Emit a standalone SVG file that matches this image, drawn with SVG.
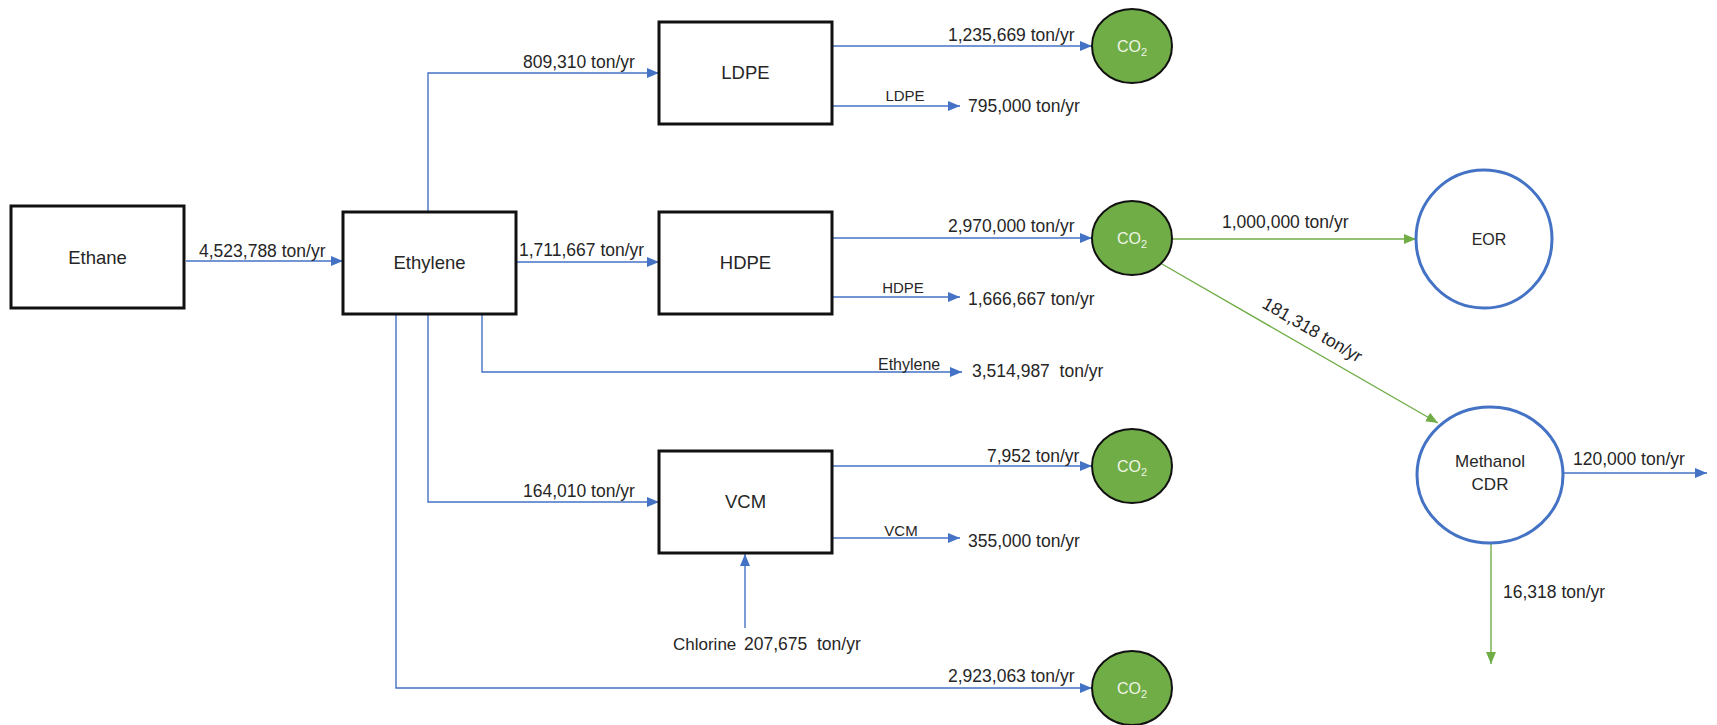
<svg xmlns="http://www.w3.org/2000/svg" width="1717" height="725" viewBox="0 0 1717 725">
<style>
text{font-family:"Liberation Sans",Arial,sans-serif;fill:#262626}
.box{fill:#fff;stroke:#111;stroke-width:3}
.bl{font-size:18.5px;text-anchor:middle}
.fl{font-size:17.5px}
.sm{font-size:15px}
.co2{fill:#70ad47;stroke:#111;stroke-width:2}
.co2t{font-size:16px;text-anchor:middle;fill:#eef5e6}
.ring{fill:#fff;stroke:#4472c4;stroke-width:3}
.cb{fill:none;stroke:#4472c4;stroke-width:1.4}
.cg{fill:none;stroke:#70ad47;stroke-width:1.4}
.pre{white-space:pre}
</style>
<defs>
<marker id="ab" markerWidth="12" markerHeight="10" refX="12" refY="5" orient="auto" markerUnits="userSpaceOnUse"><path d="M0,0 L12,5 L0,10 z" fill="#4472c4"/></marker>
<marker id="ag" markerWidth="12" markerHeight="10" refX="12" refY="5" orient="auto" markerUnits="userSpaceOnUse"><path d="M0,0 L12,5 L0,10 z" fill="#70ad47"/></marker>
</defs>
<rect width="1717" height="725" fill="#fff"/>
<g id="connectors">
<path class="cb" d="M186,261 H343" marker-end="url(#ab)"/>
<path class="cb" d="M428,212 V73 H659" marker-end="url(#ab)"/>
<path class="cb" d="M516,262 H659" marker-end="url(#ab)"/>
<path class="cb" d="M428,314 V502 H659" marker-end="url(#ab)"/>
<path class="cb" d="M482,314 V372 H962" marker-end="url(#ab)"/>
<path class="cb" d="M396,314 V688 H1092" marker-end="url(#ab)"/>
<path class="cb" d="M832,46 H1092" marker-end="url(#ab)"/>
<path class="cb" d="M832,106 H960" marker-end="url(#ab)"/>
<path class="cb" d="M832,238 H1092" marker-end="url(#ab)"/>
<path class="cb" d="M832,297 H960" marker-end="url(#ab)"/>
<path class="cb" d="M832,466 H1092" marker-end="url(#ab)"/>
<path class="cb" d="M832,538 H960" marker-end="url(#ab)"/>
<path class="cb" d="M745,628 V554" marker-end="url(#ab)"/>
<path class="cg" d="M1172,239 H1416" marker-end="url(#ag)"/>
<path class="cg" d="M1162,264 L1438,423" marker-end="url(#ag)"/>
<path class="cb" d="M1564,473 H1707" marker-end="url(#ab)"/>
<path class="cg" d="M1491,543 V664" marker-end="url(#ag)"/>
<text class="fl" x="199" y="257">4,523,788 ton/yr</text>
<text class="fl" x="523" y="68">809,310 ton/yr</text>
<text class="fl" x="519" y="256">1,711,667 ton/yr</text>
<text class="fl" x="523" y="497">164,010 ton/yr</text>
<text class="sm" style="font-size:16px" x="878" y="370">Ethylene</text>
<text class="fl pre" x="972" y="377">3,514,987  ton/yr</text>
<text class="fl" x="948" y="682">2,923,063 ton/yr</text>
<text class="sm" style="font-size:17px" x="673" y="650">Chlorine</text>
<text class="fl pre" x="744" y="650">207,675  ton/yr</text>
<text class="fl" x="948" y="41">1,235,669 ton/yr</text>
<text class="sm" x="905" y="101" text-anchor="middle">LDPE</text>
<text class="fl" x="968" y="112">795,000 ton/yr</text>
<text class="fl" x="948" y="232">2,970,000 ton/yr</text>
<text class="sm" x="903" y="293" text-anchor="middle">HDPE</text>
<text class="fl" x="968" y="305">1,666,667 ton/yr</text>
<text class="fl" x="987" y="462">7,952 ton/yr</text>
<text class="sm" x="901" y="536" text-anchor="middle">VCM</text>
<text class="fl" x="968" y="547">355,000 ton/yr</text>
<text class="fl" x="1222" y="228">1,000,000 ton/yr</text>
<text class="fl" transform="translate(1261,307) rotate(30)">181,318 ton/yr</text>
<text class="fl" x="1573" y="465">120,000 ton/yr</text>
<text class="fl" x="1503" y="598">16,318 ton/yr</text>
</g>
<g id="ethane"><rect class="box" x="11" y="206" width="173" height="102"/><text class="bl" x="97.5" y="264">Ethane</text></g>
<g id="ethylene"><rect class="box" x="343" y="212" width="173" height="102"/><text class="bl" x="429.5" y="269">Ethylene</text></g>
<g id="ldpe"><rect class="box" x="659" y="22" width="173" height="102"/><text class="bl" x="745.5" y="79">LDPE</text></g>
<g id="hdpe"><rect class="box" x="659" y="212" width="173" height="102"/><text class="bl" x="745.5" y="269">HDPE</text></g>
<g id="vcm"><rect class="box" x="659" y="451" width="173" height="102"/><text class="bl" x="745.5" y="508">VCM</text></g>
<g id="co2-ldpe"><ellipse class="co2" cx="1132" cy="46" rx="40" ry="37"/><text class="co2t" x="1132" y="52">CO<tspan font-size="11" dy="4">2</tspan></text></g>
<g id="co2-hdpe"><ellipse class="co2" cx="1132" cy="238" rx="40" ry="37"/><text class="co2t" x="1132" y="244">CO<tspan font-size="11" dy="4">2</tspan></text></g>
<g id="co2-vcm"><ellipse class="co2" cx="1132" cy="466" rx="40" ry="37"/><text class="co2t" x="1132" y="472">CO<tspan font-size="11" dy="4">2</tspan></text></g>
<g id="co2-ethylene"><ellipse class="co2" cx="1132" cy="688" rx="40" ry="37"/><text class="co2t" x="1132" y="694">CO<tspan font-size="11" dy="4">2</tspan></text></g>
<g id="eor"><ellipse class="ring" cx="1484" cy="239" rx="68" ry="69"/><text class="bl" style="font-size:16px" x="1489" y="245">EOR</text></g>
<g id="methanol"><ellipse class="ring" cx="1490" cy="475" rx="73" ry="68"/><text class="bl" style="font-size:17px" x="1490" y="467">Methanol</text><text class="bl" style="font-size:17px" x="1490" y="490">CDR</text></g>
</svg>
